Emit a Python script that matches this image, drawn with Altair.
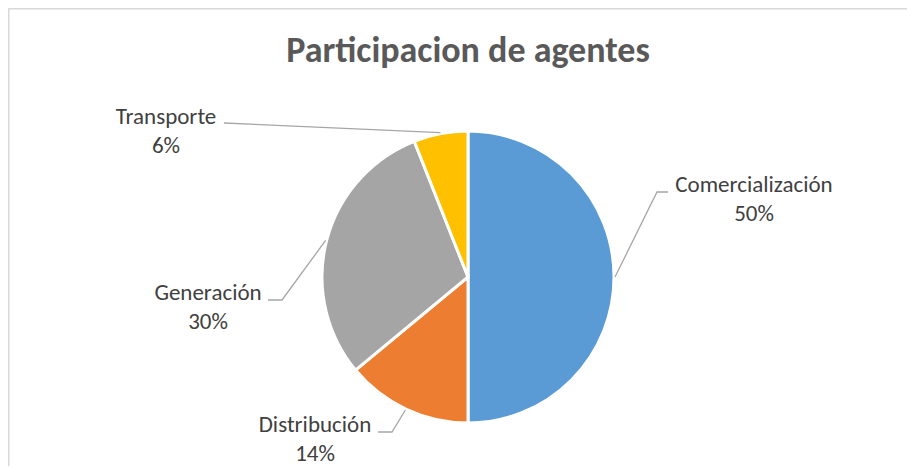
import math
import altair as alt
import pandas as pd

# ---- data ----
categories = ["Comercialización", "Distribución", "Generación", "Transporte"]
values = [50, 14, 30, 6]
percent_labels = ["50%", "14%", "30%", "6%"]
colors = ["#5B9BD5", "#ED7D31", "#A5A5A5", "#FFC000"]
title_text = "Participacion de agentes"

# ---- layout (view pixel coordinates; view origin = page (8, 8)) ----
CX, CY, R = 460, 269, 146
W, H = 899, 458
label_x = [746, 307, 200, 158]          # label text centres
label_y = [184, 424, 292, 116]          # baseline of first line
line_gap = 29
elbow = [(649, 184), (384, 424), (274, 292), None]
end = [(660, 184), (370, 424), (260, 292), (216, 115)]
FONT = "Carlito, Lato, sans-serif"

total = sum(values)
arc_df = pd.DataFrame({"cat": categories, "value": values, "idx": range(len(values))})

# anchors on the pie rim at each slice's mid angle (from the data)
anchors = []
cum = 0
for v in values:
    mid = (cum + v / 2) / total * 2 * math.pi
    cum += v
    anchors.append((CX + (R + 1) * math.sin(mid), CY - (R + 1) * math.cos(mid)))

line_rows = []
for i, c in enumerate(categories):
    pts = [anchors[i]]
    if elbow[i] is not None:
        pts.append(elbow[i])
    pts.append(end[i])
    for j, (px, py) in enumerate(pts):
        line_rows.append({"cat": c, "o": j, "px": px, "py": py})
line_df = pd.DataFrame(line_rows)

text_rows = []
for i, c in enumerate(categories):
    text_rows.append({"t": c, "px": label_x[i], "py": label_y[i]})
    text_rows.append({"t": percent_labels[i], "px": label_x[i], "py": label_y[i] + line_gap})
text_df = pd.DataFrame(text_rows)

pie = alt.Chart(arc_df).mark_arc(radius=R, stroke="white", strokeWidth=3).encode(
    theta=alt.Theta("value:Q", stack=True),
    order=alt.Order("idx:Q"),
    color=alt.Color("cat:N", scale=alt.Scale(domain=categories, range=colors), legend=None),
    x=alt.value(CX),
    y=alt.value(CY),
)

leaders = alt.Chart(line_df).mark_line(color="#A6A6A6", strokeWidth=1.3).encode(
    x=alt.X("px:Q", scale=None, axis=None),
    y=alt.Y("py:Q", scale=None, axis=None),
    detail="cat:N",
    order="o:Q",
)

labels = alt.Chart(text_df).mark_text(
    font=FONT, fontSize=23, color="#404040", align="center", baseline="alphabetic"
).encode(
    x=alt.X("px:Q", scale=None, axis=None),
    y=alt.Y("py:Q", scale=None, axis=None),
    text="t:N",
)

title = alt.Chart(pd.DataFrame({"t": [title_text]})).mark_text(
    font=FONT, fontSize=36, fontWeight="bold", color="#595959", align="center", baseline="alphabetic"
).encode(
    x=alt.value(460), y=alt.value(54), text="t:N"
)

border = alt.Chart(pd.DataFrame({"a": [0]})).mark_rule(color="#D9D9D9", strokeWidth=1.5).encode(
    x=alt.value(0.75), x2=alt.value(0.75), y=alt.value(0), y2=alt.value(H)
)
border_top = alt.Chart(pd.DataFrame({"a": [0]})).mark_rule(color="#D9D9D9", strokeWidth=1.5).encode(
    x=alt.value(0), x2=alt.value(W), y=alt.value(0.75), y2=alt.value(0.75)
)

chart = alt.layer(border, border_top, pie, leaders, labels, title).properties(
    width=W, height=H, padding=0, autosize=alt.AutoSizeParams(type="none")
).configure_view(stroke=None).configure(background="white")

chart.save("out.html", embed_options={"renderer": "svg", "actions": False})
